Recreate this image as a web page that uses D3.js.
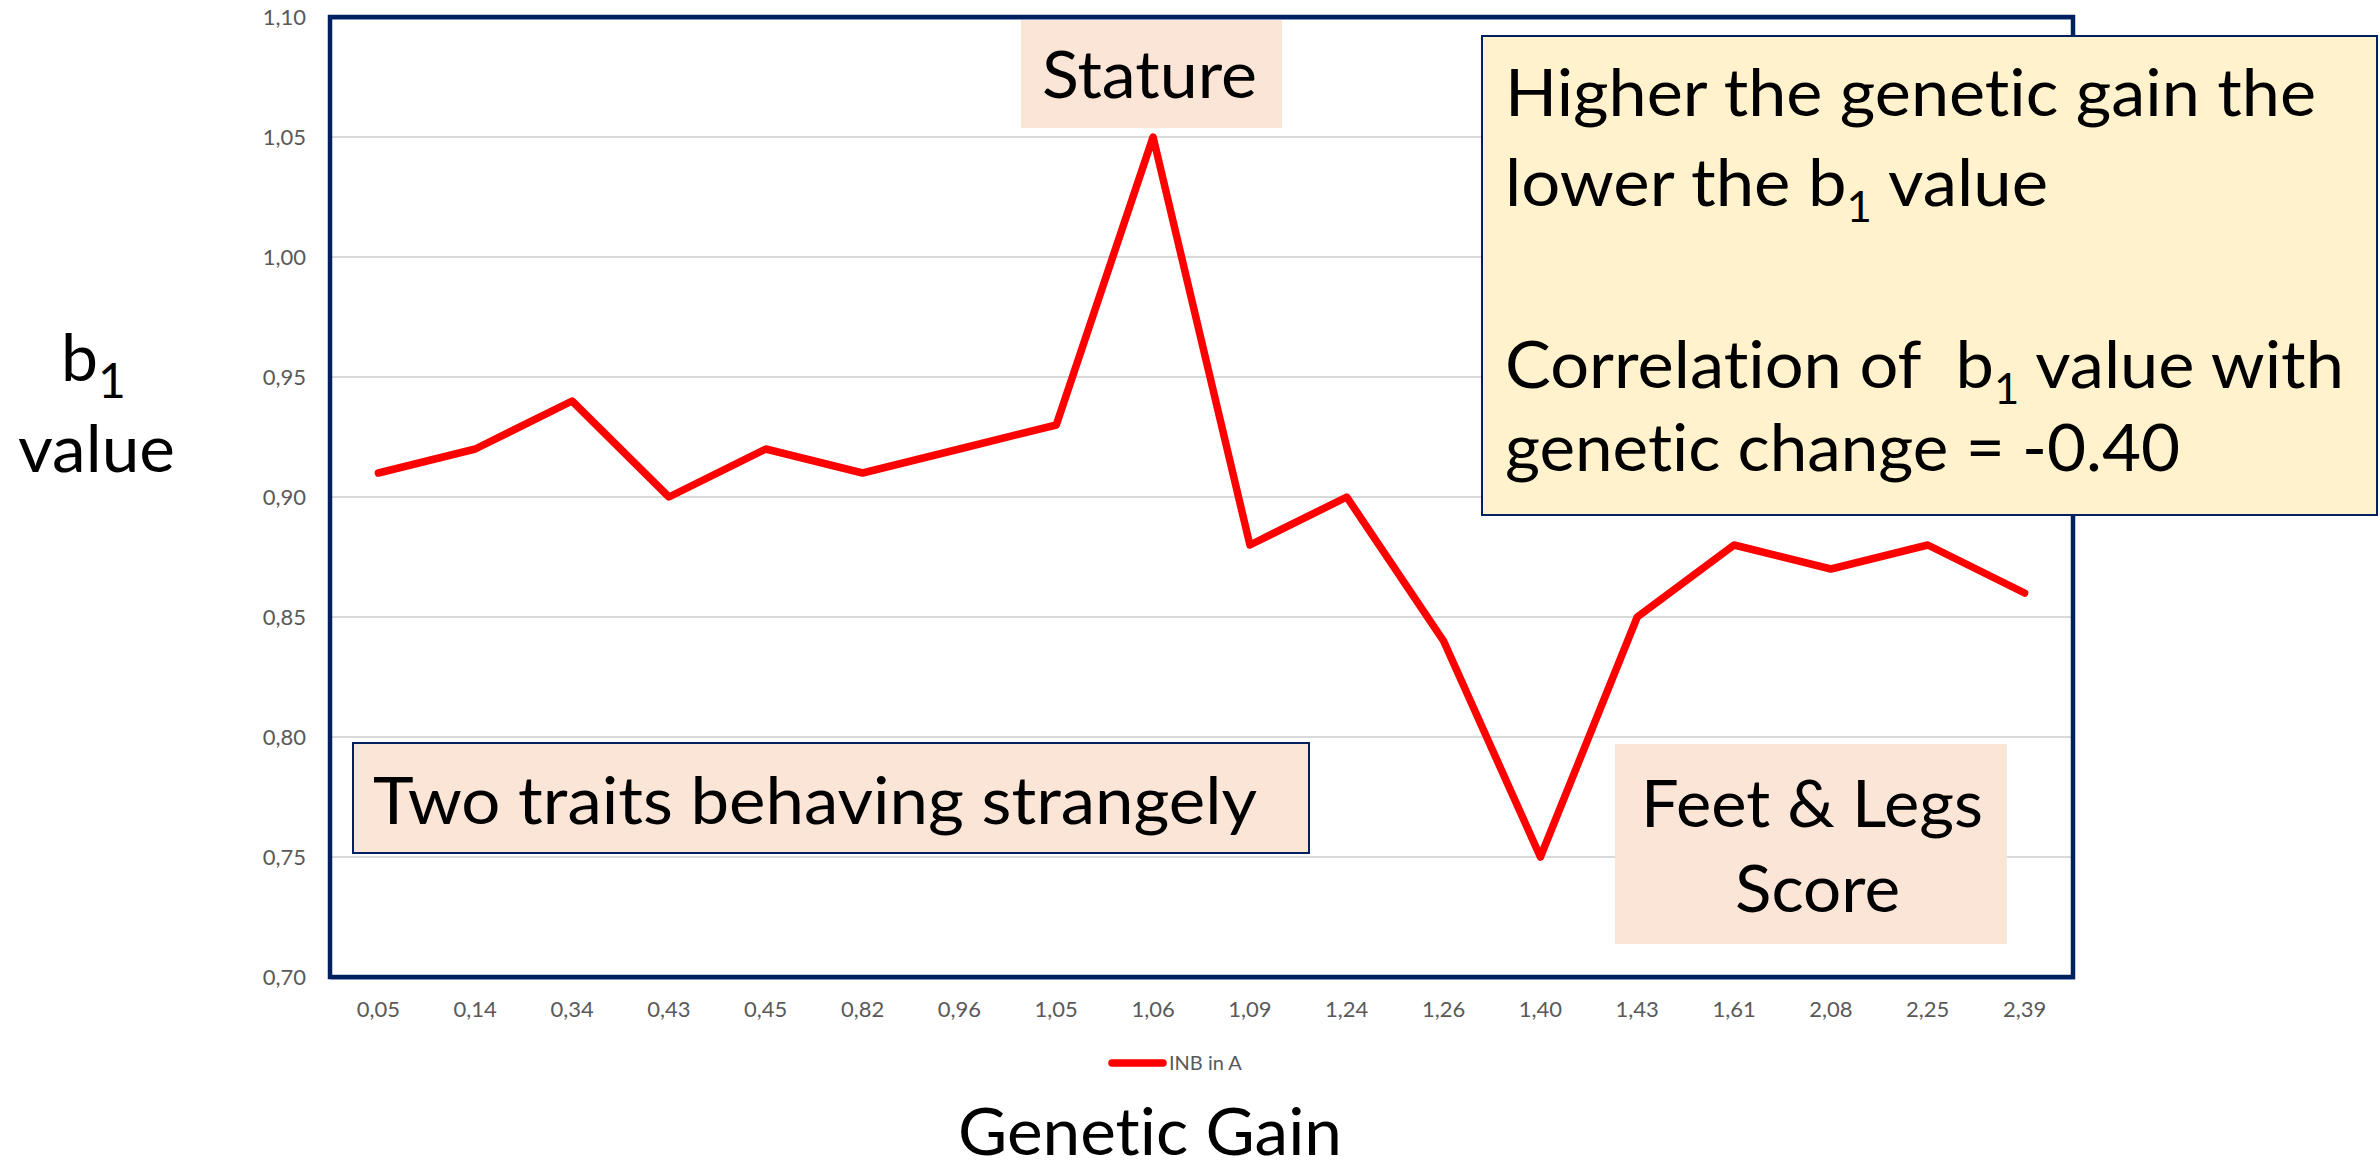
<!DOCTYPE html>
<html>
<head>
<meta charset="utf-8">
<script src="https://cdn.jsdelivr.net/npm/d3@7"></script>
<style>
    html, body { margin: 0; padding: 0; background: #fff; }
    svg { display: block; }
    text { font-family: Lato, "Open Sans", sans-serif; font-variant-ligatures: none; font-feature-settings: "liga" 0, "clig" 0; }
    .tick-label { fill: #595959; font-size: 22px; }
    .big { fill: #000; font-size: 66px; }
</style>
</head>
<body>
<div id="graphic"></div>
<script>
(function(d3){

    // Genetic gain of each trait (category axis)
    let gainLabels = ['0,05', '0,14', '0,34', '0,43', '0,45', '0,82', '0,96', '1,05', '1,06',
                      '1,09', '1,24', '1,26', '1,40', '1,43', '1,61', '2,08', '2,25', '2,39'];

    // b1 value for each trait
    let b1Values = [0.91, 0.92, 0.94, 0.90, 0.92, 0.91, 0.92, 0.93, 1.05,
                    0.88, 0.90, 0.84, 0.75, 0.85, 0.88, 0.87, 0.88, 0.86];

    let yTicks = [0.70, 0.75, 0.80, 0.85, 0.90, 0.95, 1.00, 1.05, 1.10];
    let seriesName = 'INB in A';

    let xTitle = 'Genetic Gain';
    let noteStature = 'Stature';
    let noteStrange = 'Two traits behaving strangely';
    let noteFeet = ['Feet & Legs', 'Score'];

    // Canvas size
    let width = 2380, height = 1170;

    // Plot frame
    let left = 330, right = 2073, top = 17, bottom = 977;

    let navy = '#002060', peach = '#FBE5D6', cream = '#FFF2CC';

    let svg = d3.select('#graphic')
                .append('svg')
                .attr('width', width)
                .attr('height', height);

    let x = d3.scalePoint()
        .domain(gainLabels)
        .range([left, right])
        .padding(0.5);

    let y = d3.scaleLinear()
        .domain([0.70, 1.10])
        .range([bottom, top]);

    let fmt = v => d3.format('.2f')(v).replace('.', ',');

    // Squeeze a text to the width it has in the original
    function fit(sel, w) {
        return sel.attr('textLength', w).attr('lengthAdjust', 'spacingAndGlyphs');
    }

    // Gridlines
    svg.append('g')
        .selectAll('line')
        .data(yTicks)
        .join('line')
        .attr('x1', left).attr('x2', right)
        .attr('y1', d => y(d)).attr('y2', d => y(d))
        .attr('stroke', '#d9d9d9')
        .attr('stroke-width', 2);

    // Y axis labels
    svg.append('g')
        .selectAll('text')
        .data(yTicks)
        .join('text')
        .attr('class', 'tick-label')
        .attr('x', 306)
        .attr('y', d => y(d))
        .attr('dy', '0.36em')
        .attr('text-anchor', 'end')
        .text(fmt);

    // X axis labels
    svg.append('g')
        .selectAll('text')
        .data(gainLabels)
        .join('text')
        .attr('class', 'tick-label')
        .attr('x', d => x(d))
        .attr('y', 1017)
        .attr('text-anchor', 'middle')
        .text(d => d);

    // Frame round the plot area
    svg.append('rect')
        .attr('x', left + 1).attr('y', top + 2)
        .attr('width', right - left).attr('height', bottom - top)
        .attr('fill', 'none')
        .attr('stroke', '#8EA9DB')
        .attr('stroke-width', 1.5);

    svg.append('rect')
        .attr('x', left).attr('y', top)
        .attr('width', right - left).attr('height', bottom - top)
        .attr('fill', 'none')
        .attr('stroke', navy)
        .attr('stroke-width', 4.5);

    // The series line
    let line = d3.line()
        .x((d, i) => x(gainLabels[i]))
        .y(d => y(d));

    svg.append('path')
        .datum(b1Values)
        .attr('d', line)
        .attr('fill', 'none')
        .attr('stroke', '#FF0000')
        .attr('stroke-width', 7.5)
        .attr('stroke-linejoin', 'round')
        .attr('stroke-linecap', 'round');

    // Legend
    svg.append('line')
        .attr('x1', 1112).attr('x2', 1163)
        .attr('y1', 1063).attr('y2', 1063)
        .attr('stroke', '#FF0000')
        .attr('stroke-width', 7.5)
        .attr('stroke-linecap', 'round');

    svg.append('text')
        .attr('class', 'tick-label')
        .attr('x', 1169)
        .attr('y', 1063)
        .attr('dy', '0.36em')
        .style('font-size', '20px')
        .text(seriesName);

    // Axis titles
    fit(svg.append('text')
        .attr('class', 'big')
        .attr('x', 1150)
        .attr('y', 1155)
        .attr('text-anchor', 'middle')
        .text(xTitle), 384);

    let bLabel = svg.append('text')
        .attr('class', 'big')
        .attr('x', 61)
        .attr('y', 381);
    bLabel.append('tspan').text('b');
    bLabel.append('tspan').attr('dy', 17).style('font-size', '48px').text('1');

    fit(svg.append('text')
        .attr('class', 'big')
        .attr('x', 18)
        .attr('y', 472)
        .text('value'), 157);

    // Annotation: Stature
    svg.append('rect')
        .attr('x', 1021).attr('y', 20)
        .attr('width', 261).attr('height', 108)
        .attr('fill', peach);

    fit(svg.append('text')
        .attr('class', 'big')
        .attr('x', 1042)
        .attr('y', 98)
        .text(noteStature), 215);

    // Annotation: two traits
    svg.append('rect')
        .attr('x', 353).attr('y', 743)
        .attr('width', 956).attr('height', 110)
        .attr('fill', peach)
        .attr('stroke', navy)
        .attr('stroke-width', 2);

    fit(svg.append('text')
        .attr('class', 'big')
        .attr('x', 373)
        .attr('y', 824)
        .text(noteStrange), 884);

    // Annotation: feet & legs
    svg.append('rect')
        .attr('x', 1615).attr('y', 744)
        .attr('width', 392).attr('height', 200)
        .attr('fill', peach);

    fit(svg.append('text')
        .attr('class', 'big')
        .attr('x', 1641)
        .attr('y', 827)
        .text(noteFeet[0]), 342);

    fit(svg.append('text')
        .attr('class', 'big')
        .attr('x', 1735)
        .attr('y', 912)
        .text(noteFeet[1]), 165);

    // Annotation: correlation box
    svg.append('rect')
        .attr('x', 1482).attr('y', 36)
        .attr('width', 895).attr('height', 479)
        .attr('fill', cream)
        .attr('stroke', navy)
        .attr('stroke-width', 2);

    let tx = 1505;

    fit(svg.append('text')
        .attr('class', 'big')
        .attr('x', tx).attr('y', 116)
        .text('Higher the genetic gain the'), 811);

    let l2 = svg.append('text')
        .attr('class', 'big')
        .attr('x', tx).attr('y', 206);
    l2.append('tspan').text('lower the b');
    l2.append('tspan').attr('dy', 16).style('font-size', '42px').text('1');
    l2.append('tspan').attr('dy', -16).text(' value');
    fit(l2, 543);

    let l4 = svg.append('text')
        .attr('class', 'big')
        .attr('x', tx).attr('y', 388)
        .style('white-space', 'pre');
    l4.append('tspan').text('Correlation of  b');
    l4.append('tspan').attr('dy', 16).style('font-size', '42px').text('1');
    l4.append('tspan').attr('dy', -16).text(' value with');
    fit(l4, 839);

    fit(svg.append('text')
        .attr('class', 'big')
        .attr('x', tx).attr('y', 471)
        .text('genetic change = -0.40'), 675);

})(window.d3);
</script>
</body>
</html>
